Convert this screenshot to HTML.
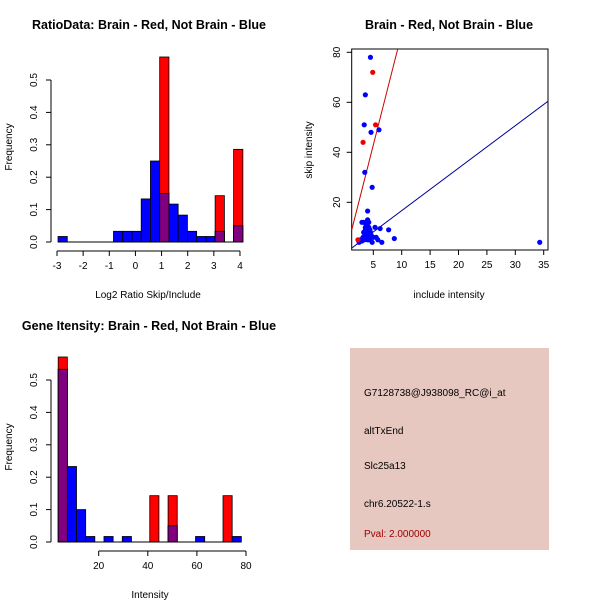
<!DOCTYPE html>
<html><head><meta charset="utf-8"><style>
body{margin:0;background:#fff}
svg{display:block;font-family:"Liberation Sans",sans-serif}
</style></head><body>
<svg id="c" width="600" height="600" viewBox="0 0 600 600">
<rect width="600" height="600" fill="#fff"/>
<text x="149" y="29" font-size="12.5" font-weight="bold" text-anchor="middle">RatioData: Brain - Red, Not Brain - Blue</text>
<text x="449" y="29" font-size="12.5" font-weight="bold" text-anchor="middle">Brain - Red, Not Brain - Blue</text>
<text x="149" y="330" font-size="12.5" font-weight="bold" text-anchor="middle">Gene Itensity: Brain - Red, Not Brain - Blue</text>
<text x="148" y="298" font-size="10" text-anchor="middle">Log2 Ratio Skip/Include</text>
<text x="12" y="147" font-size="10" text-anchor="middle" transform="rotate(-90 12 147)">Frequency</text>
<text x="449" y="298" font-size="10" text-anchor="middle">include intensity</text>
<text x="312" y="150" font-size="10" text-anchor="middle" transform="rotate(-90 312 150)">skip intensity</text>
<text x="150" y="598" font-size="10" text-anchor="middle">Intensity</text>
<text x="12" y="447" font-size="10" text-anchor="middle" transform="rotate(-90 12 447)">Frequency</text>
<g>
<rect x="350" y="348" width="199" height="202" fill="#e6c8c0"/>
<text x="364" y="396" font-size="10">G7128738@J938098_RC@i_at</text>
<text x="364" y="434" font-size="10">altTxEnd</text>
<text x="364" y="469" font-size="10">Slc25a13</text>
<text x="364" y="507" font-size="10">chr6.20522-1.s</text>
<text x="364" y="537" font-size="10" fill="#a00000">Pval: 2.000000</text>
</g>
</svg>
<script>
// Ratio histogram data
const ratioBlue=[0.017,0,0,0,0,0,0.033,0.033,0.033,0.133,0.25,0.15,0.117,0.083,0.033,0.017,0.017,0.033,0,0.05];
const ratioRed=[0,0,0,0,0,0,0,0,0,0,0,0.571,0,0,0,0,0,0.143,0,0.286];
const ratioXTicks=[-3,-2,-1,0,1,2,3,4];
const freqTicks=[0,0.1,0.2,0.3,0.4,0.5];
// Intensity histogram data
const intBlue=[0.533,0.233,0.1,0.017,0,0.017,0,0.017,0,0,0,0,0.05,0,0,0.017,0,0,0,0.017];
const intRed=[0.571,0,0,0,0,0,0,0,0,0,0.143,0,0.143,0,0,0,0,0,0.143,0];
const intXTicks=[20,40,60,80];
// Scatter data
const blueX=[4.5,3.6,3.4,4.6,6,3.5,4.8,4,34.3,8.7,7.7,6.2,5.3,6.5,5.8,3,4,3.3,3.8,4.2,4.4,3.6,3.9,4.1,4.6,4.3,3.5,3.2,2.9,2.7,3.0,3.4,3.7,4.0,4.3,4.7,5.0,3.6,3.9,4.2,2.5,3.3,4.5,5.5,4.8];
const blueY=[78,63,51,48,49,32,26,16.5,4,5.5,9,9.5,10,4,5,12,13,12,11,10,9,9,8,7,7,6,7,6,5,5,4.5,5,6,5,5,6,6,10,11,12,4,8,8,6,4];
const redX=[4.9,5.4,3.2,2.3];
const redY=[72,51,44,5];
const scatXTicks=[5,10,15,20,25,30,35];
const scatYTicks=[20,40,60,80];
const redFit=[-1.8,8.94], blueFit=[-0.35,1.7];

const svg=document.getElementById('c'), NS='http://www.w3.org/2000/svg';
function el(t,a,p){const e=document.createElementNS(NS,t);for(const k in a)e.setAttribute(k,a[k]);(p||svg).appendChild(e);return e;}
function txt(x,y,s,anchor,rot,p){const e=el('text',{x:x,y:y,'font-size':10,'text-anchor':anchor||'middle'},p);if(rot)e.setAttribute('transform','rotate(-90 '+x+' '+y+')');e.textContent=s;return e;}

function hist(name,blue,red,x0,bw,xs,ys,xTicks,axisY,xAxisFrom,xAxisTo){
  const g=el('g',{});
  
  
  for(let i=0;i<blue.length;i++){
    const L=xs(x0+i*bw),R=xs(x0+(i+1)*bw),b=blue[i],r=red[i],m=Math.min(b,r);
    const bars=[[b,'#0000ff'],[r,'#ff0000'],[m,'#800080']];
    for(const [v,c] of bars){ if(v<=0)continue;
      const rc=el('rect',{x:L,y:ys(v),width:R-L,height:ys(0)-ys(v),fill:c,stroke:'#000','stroke-width':0.8},g);
      
      
    }
  }
  const y0=ys(0);
  el('line',{x1:xs(x0),x2:xs(x0+blue.length*bw),y1:y0,y2:y0,stroke:'#000'},g);
  el('line',{x1:xs(xAxisFrom),x2:xs(xAxisTo),y1:axisY,y2:axisY,stroke:'#000'},g);
  for(const t of xTicks){el('line',{x1:xs(t),x2:xs(t),y1:axisY,y2:axisY+5,stroke:'#000'},g);txt(xs(t),axisY+18,String(t),'middle',0,g);}
  el('line',{x1:51,x2:51,y1:ys(0),y2:ys(0.5),stroke:'#000'},g);
  for(const t of freqTicks){const y=ys(t);el('line',{x1:46,x2:51,y1:y,y2:y,stroke:'#000'},g);txt(37,y,t.toFixed(1),'middle',1,g);}
}
const rxs=v=>57+(v+3)*26.14, rys=v=>242-v*324;
hist('ratio-histogram',ratioBlue,ratioRed,-2.96,0.3535,rxs,rys,ratioXTicks,251,-3,4);
const ixs=v=>49.6+v*2.455, iys=v=>542-v*324;
hist('intensity-histogram',intBlue,intRed,3.5,3.73,ixs,iys,intXTicks,551,20,80);

// scatter
const sxs=v=>344.9+v*5.68, sys=v=>252.3-v*2.5;
const sg=el('g',{});


el('rect',{x:351.7,y:49,width:196.3,height:201,fill:'none',stroke:'#000'},sg);
for(const t of scatXTicks){el('line',{x1:sxs(t),x2:sxs(t),y1:250,y2:255,stroke:'#000'},sg);txt(sxs(t),268,String(t),'middle',0,sg);}
for(const t of scatYTicks){el('line',{x1:346.7,x2:351.7,y1:sys(t),y2:sys(t),stroke:'#000'},sg);txt(340,sys(t),String(t),'middle',1,sg);}
const cp=el('clipPath',{id:'sc'},sg);el('rect',{x:351.7,y:49,width:196.3,height:201},cp);
const xa=1.2,xb=35.9;
const rl=el('line',{x1:sxs(xa),y1:sys(redFit[0]+redFit[1]*xa),x2:sxs(xb),y2:sys(redFit[0]+redFit[1]*xb),stroke:'#cc0000','clip-path':'url(#sc)'},sg);


const bl=el('line',{x1:sxs(xa),y1:sys(blueFit[0]+blueFit[1]*xa),x2:sxs(xb),y2:sys(blueFit[0]+blueFit[1]*xb),stroke:'#000099','clip-path':'url(#sc)'},sg);


for(let i=0;i<blueX.length;i++){const c=el('circle',{cx:sxs(blueX[i]),cy:sys(blueY[i]),r:2.6,fill:'#0000ff'},sg);
  
  }
for(let i=0;i<redX.length;i++){const c=el('circle',{cx:sxs(redX[i]),cy:sys(redY[i]),r:2.6,fill:'#ee0000'},sg);
  
  }
</script>
</body></html>
